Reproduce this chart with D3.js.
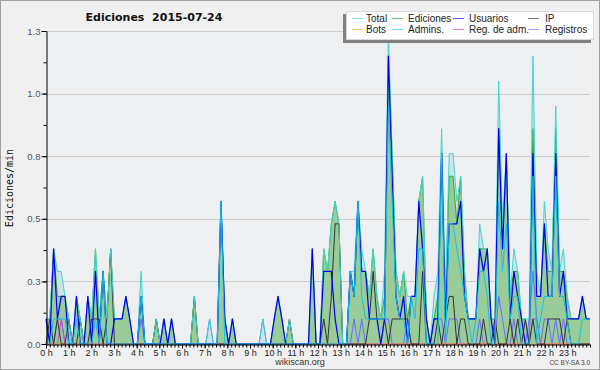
<!DOCTYPE html>
<html>
<head>
<meta charset="utf-8">
<script src="https://cdn.jsdelivr.net/npm/d3@7"></script>
<style>
  body { margin: 0; background: #f0f0f0; }
  svg { display: block; }
</style>
</head>
<body>
<script>
// 10-minute bins, 00:00 .. 23:50 (edits per minute)
const total = [
  0.1, 0.1, 0.38, 0.29, 0.29, 0.19, 0.1, 0, 0.19, 0.1, 0, 0.19,
  0.1, 0.38, 0.1, 0.29, 0.1, 0.38, 0.1, 0.1, 0.1, 0.19, 0.1, 0,
  0, 0.29, 0, 0, 0, 0.1, 0, 0.1, 0, 0.1, 0, 0,
  0, 0, 0, 0.19, 0, 0, 0, 0.1, 0, 0, 0.57, 0.1,
  0, 0.1, 0, 0, 0, 0, 0, 0, 0, 0.1, 0, 0,
  0.1, 0.19, 0.1, 0, 0.1, 0, 0, 0, 0, 0, 0.38, 0,
  0, 0.38, 0.29, 0.48, 0.57, 0.48, 0, 0, 0.29, 0.29, 0.57, 0.38,
  0.29, 0.19, 0.38, 0.19, 0.1, 0.29, 1.24, 0.76, 0.29, 0.19, 0.29, 0.19,
  0.19, 0.19, 0.57, 0.67, 0.1, 0, 0.19, 0.29, 0.86, 0.19, 0.76, 0.76,
  0.57, 0.67, 0.29, 0.1, 0.1, 0.1, 0.48, 0.38, 0.38, 0.1, 0.1, 1.05,
  0.48, 0.76, 0.19, 0.38, 0.29, 0.1, 0.1, 0.1, 1.15, 0.29, 0.19, 0.57,
  0.38, 0.29, 0.95, 0.29, 0.38, 0.19, 0.1, 0.1, 0.1, 0.19, 0.1, 0.1
];
const ediciones = [
  0.1, 0.1, 0.38, 0.19, 0.19, 0.19, 0.1, 0, 0.19, 0.1, 0, 0.19,
  0.1, 0.38, 0.1, 0.29, 0.1, 0.38, 0.1, 0.1, 0.1, 0.19, 0.1, 0,
  0, 0.19, 0, 0, 0, 0.1, 0, 0.1, 0, 0.1, 0, 0,
  0, 0, 0, 0.19, 0, 0, 0, 0, 0, 0, 0.57, 0.1,
  0, 0.1, 0, 0, 0, 0, 0, 0, 0, 0, 0, 0,
  0.1, 0.19, 0.1, 0, 0.1, 0, 0, 0, 0, 0, 0.38, 0,
  0, 0.38, 0.29, 0.48, 0.57, 0.48, 0, 0, 0.29, 0.19, 0.57, 0.29,
  0.29, 0.19, 0.38, 0.19, 0.1, 0.19, 1.15, 0.76, 0.29, 0.19, 0.29, 0.1,
  0.19, 0.19, 0.57, 0.67, 0.1, 0, 0.1, 0.19, 0.76, 0.19, 0.67, 0.67,
  0.48, 0.67, 0.29, 0.1, 0.1, 0.1, 0.38, 0.38, 0.38, 0.1, 0.1, 0.86,
  0.38, 0.76, 0.19, 0.29, 0.29, 0.1, 0.1, 0, 0.86, 0.19, 0.19, 0.48,
  0.29, 0.29, 0.86, 0.29, 0.29, 0.19, 0.1, 0.1, 0.1, 0.19, 0.1, 0.1
];
const usuarios = [
  0.1, 0, 0.38, 0.1, 0.19, 0.19, 0, 0, 0.19, 0, 0, 0.19,
  0, 0.29, 0, 0.29, 0, 0, 0.1, 0.1, 0.1, 0.19, 0.1, 0,
  0, 0.19, 0, 0, 0, 0, 0, 0.1, 0, 0.1, 0, 0,
  0, 0, 0, 0, 0, 0, 0, 0, 0, 0, 0.57, 0.1,
  0, 0.1, 0, 0, 0, 0, 0, 0, 0, 0, 0, 0,
  0.1, 0.19, 0.1, 0, 0, 0, 0, 0, 0, 0, 0.38, 0,
  0, 0.29, 0.29, 0.29, 0.1, 0, 0, 0, 0.29, 0.19, 0.57, 0.29,
  0.29, 0.1, 0.1, 0.1, 0, 0.1, 1.15, 0.67, 0.19, 0.1, 0.19, 0,
  0.19, 0.19, 0.57, 0.38, 0.1, 0, 0.1, 0.1, 0.76, 0.1, 0.48, 0.48,
  0.48, 0.57, 0.19, 0.1, 0.1, 0.1, 0.38, 0.29, 0.38, 0.1, 0, 0.86,
  0.38, 0.76, 0.1, 0.29, 0.19, 0.1, 0, 0, 0.76, 0.19, 0.19, 0.48,
  0.19, 0.19, 0.76, 0.19, 0.29, 0.1, 0.1, 0.1, 0.1, 0.19, 0.1, 0.1
];
const ip = [
  0, 0.1, 0, 0.1, 0, 0, 0.1, 0, 0, 0.1, 0, 0,
  0.1, 0.1, 0.1, 0, 0.1, 0.38, 0, 0, 0, 0, 0, 0,
  0, 0, 0, 0, 0, 0.1, 0, 0, 0, 0, 0, 0,
  0, 0, 0, 0.19, 0, 0, 0, 0, 0, 0, 0, 0,
  0, 0, 0, 0, 0, 0, 0, 0, 0, 0, 0, 0,
  0, 0, 0, 0, 0.1, 0, 0, 0, 0, 0, 0, 0,
  0, 0.1, 0, 0.19, 0.48, 0.48, 0, 0, 0, 0, 0, 0,
  0, 0.1, 0.29, 0.1, 0.1, 0.1, 0, 0.1, 0.1, 0.1, 0.1, 0.1,
  0, 0, 0, 0.29, 0, 0, 0, 0.1, 0, 0.1, 0.19, 0.19,
  0, 0.1, 0.1, 0, 0, 0, 0, 0.1, 0, 0, 0.1, 0,
  0, 0, 0.1, 0, 0.1, 0, 0.1, 0, 0.1, 0, 0, 0,
  0.1, 0.1, 0.1, 0.1, 0, 0.1, 0, 0, 0, 0, 0, 0
];
const bots = [
  0, 0, 0, 0, 0, 0, 0, 0, 0, 0, 0, 0,
  0, 0, 0, 0, 0, 0, 0, 0, 0, 0, 0, 0,
  0, 0, 0, 0, 0, 0, 0, 0, 0, 0, 0, 0,
  0, 0, 0, 0, 0, 0, 0, 0, 0, 0, 0, 0,
  0, 0, 0, 0, 0, 0, 0, 0, 0, 0, 0, 0,
  0, 0, 0, 0, 0, 0, 0, 0, 0, 0, 0, 0,
  0, 0, 0, 0, 0, 0, 0, 0, 0, 0, 0, 0,
  0, 0, 0, 0, 0, 0, 0, 0, 0, 0, 0, 0,
  0, 0, 0, 0, 0, 0, 0, 0, 0, 0, 0, 0,
  0, 0, 0, 0, 0, 0, 0, 0, 0, 0, 0, 0,
  0, 0, 0, 0, 0, 0, 0, 0, 0, 0, 0, 0,
  0, 0, 0, 0, 0, 0, 0, 0, 0, 0, 0, 0
];
const admins = [
  0, 0, 0.1, 0.1, 0.1, 0.1, 0, 0, 0.1, 0, 0, 0,
  0, 0.1, 0, 0.29, 0, 0, 0, 0, 0, 0, 0, 0,
  0, 0.19, 0, 0, 0, 0, 0, 0, 0, 0, 0, 0,
  0, 0, 0, 0, 0, 0, 0, 0, 0, 0, 0.57, 0,
  0, 0, 0, 0, 0, 0, 0, 0, 0, 0, 0, 0,
  0, 0, 0, 0, 0, 0, 0, 0, 0, 0, 0, 0,
  0, 0, 0, 0, 0, 0, 0, 0, 0.29, 0.19, 0.57, 0.19,
  0.1, 0.1, 0.1, 0.1, 0.1, 0.1, 0.95, 0.57, 0.19, 0.1, 0.1, 0,
  0.19, 0.1, 0.38, 0.38, 0, 0, 0, 0, 0.76, 0, 0.48, 0.48,
  0.38, 0.29, 0.19, 0.1, 0, 0.1, 0.29, 0.29, 0.19, 0, 0, 0.57,
  0.29, 0.48, 0.1, 0.19, 0.19, 0, 0, 0, 0.67, 0, 0.1, 0.19,
  0.19, 0.19, 0.67, 0.19, 0.19, 0.1, 0, 0, 0, 0.1, 0.1, 0.1
];
const regAdm = [
  0, 0, 0, 0, 0.1, 0, 0, 0, 0, 0, 0, 0,
  0, 0, 0, 0, 0, 0, 0, 0, 0, 0, 0, 0,
  0, 0, 0, 0, 0, 0, 0, 0, 0, 0, 0, 0,
  0, 0, 0, 0, 0, 0, 0, 0, 0, 0, 0, 0,
  0, 0, 0, 0, 0, 0, 0, 0, 0, 0, 0, 0,
  0, 0, 0, 0, 0, 0, 0, 0, 0, 0, 0, 0,
  0, 0, 0, 0, 0, 0, 0, 0, 0, 0, 0, 0,
  0, 0, 0, 0, 0, 0, 0, 0, 0, 0, 0, 0,
  0, 0, 0, 0, 0, 0, 0, 0, 0, 0, 0, 0,
  0, 0, 0, 0, 0, 0, 0, 0, 0, 0, 0, 0,
  0, 0, 0, 0, 0, 0, 0, 0, 0.1, 0.1, 0, 0,
  0, 0, 0, 0, 0, 0, 0, 0, 0, 0, 0, 0
];
const registros = [
  0, 0, 0, 0.1, 0.1, 0, 0, 0, 0, 0, 0, 0,
  0, 0, 0, 0, 0, 0, 0, 0, 0, 0, 0, 0,
  0, 0.1, 0, 0, 0, 0, 0, 0, 0, 0, 0, 0,
  0, 0, 0, 0, 0, 0, 0, 0.1, 0, 0, 0, 0,
  0, 0, 0, 0, 0, 0, 0, 0, 0, 0.1, 0, 0,
  0, 0, 0, 0, 0, 0, 0, 0, 0, 0, 0, 0,
  0, 0, 0, 0, 0, 0, 0, 0, 0, 0.1, 0, 0.1,
  0, 0, 0, 0, 0, 0.1, 0.1, 0, 0, 0, 0, 0.1,
  0, 0, 0, 0, 0, 0, 0.1, 0.1, 0.1, 0, 0.1, 0.1,
  0.1, 0, 0, 0, 0, 0, 0.1, 0, 0, 0, 0, 0.19,
  0.1, 0, 0, 0.1, 0, 0, 0, 0.1, 0.29, 0.1, 0, 0.1,
  0.1, 0, 0.1, 0, 0.1, 0, 0, 0, 0, 0, 0, 0
];

const hours = [0, 1, 2, 3, 4, 5, 6, 7, 8, 9, 10, 11, 12, 13, 14, 15, 16, 17, 18, 19, 20, 21, 22, 23];
const yTicks = [0, 0.25, 0.5, 0.75, 1, 1.25];
const yTickLabels = ["0.0", "0.3", "0.5", "0.8", "1.0", "1.3"];

const legendRows = [
  [["Total", "#44d4cc"], ["Ediciones", "#33aa33"], ["Usuarios", "#0000ee"], ["IP", "#333333"]],
  [["Bots", "#ff9922"], ["Admins.", "#11c4e0"], ["Reg. de adm.", "#cc44dd"], ["Registros", "#6b6bff"]]
];

const W = 600, H = 370;
const plot = { left: 46, right: 590, top: 31, bottom: 344 };

const svg = d3.select("body").append("svg")
  .attr("width", W)
  .attr("height", H)
  .style("font-family", "'Liberation Sans', Arial, sans-serif");

svg.append("rect")
  .attr("x", 0.5).attr("y", 0.5)
  .attr("width", W - 1).attr("height", H - 1)
  .attr("fill", "#f0f0f0")
  .attr("stroke", "#a0a0a0");

svg.append("rect")
  .attr("x", plot.left).attr("y", plot.top)
  .attr("width", plot.right - plot.left).attr("height", plot.bottom - plot.top)
  .attr("fill", "#edeff1");

const x = d3.scaleLinear().domain([0, total.length - 1]).range([plot.left, plot.right]);
const xh = d3.scaleLinear().domain([0, 24]).range([plot.left, plot.right]);
const y = d3.scaleLinear().domain([0, 1.25]).range([plot.bottom, plot.top]);

// grid
svg.append("g")
  .selectAll("line")
  .data(yTicks.slice(1))
  .join("line")
  .attr("x1", plot.left).attr("x2", plot.right)
  .attr("y1", d => Math.round(y(d)) + 0.5).attr("y2", d => Math.round(y(d)) + 0.5)
  .attr("stroke", "#cccccc");

const area = d3.area().x((d, i) => x(i)).y0(y(0)).y1(d => y(d));
const line = d3.line().x((d, i) => x(i)).y(d => y(d));

svg.append("path").attr("d", area(total)).attr("fill", "#cde2ea");
svg.append("path").attr("d", area(ediciones)).attr("fill", "#99cc99");

const series = [
  [ediciones, "#33aa33", 1],
  [registros, "#6b6bff", 1],
  [regAdm, "#cc44dd", 1],
  [bots, "#ff9922", 1],
  [ip, "#333333", 1],
  [total, "#44d4cc", 1],
  [usuarios, "#0000ee", 1.2],
  [admins, "#11c4e0", 1]
];
series.forEach(([data, color, w]) => {
  svg.append("path")
    .attr("d", line(data))
    .attr("fill", "none")
    .attr("stroke", color)
    .attr("stroke-width", w)
    .attr("stroke-linejoin", "round");
});

// y axis
svg.append("g")
  .attr("transform", `translate(${plot.left + 0.5},0)`)
  .call(d3.axisLeft(y).tickValues(d3.range(0, 1.26, 0.125)).tickSize(3).tickFormat(""))
  .call(g => g.select(".domain").remove());
svg.append("g")
  .attr("transform", `translate(${plot.left + 0.5},0)`)
  .call(d3.axisLeft(y).tickValues(yTicks).tickFormat((d, i) => yTickLabels[i]).tickSize(5).tickSizeOuter(0).tickPadding(1))
  .call(g => g.selectAll("text").attr("fill", "#555").style("font-size", "9.5px").style("font-family", "'Liberation Sans', Arial, sans-serif"))
  .call(g => g.selectAll("line, path").attr("stroke", "#000"));

// x axis
svg.append("g")
  .attr("transform", `translate(0,${plot.bottom + 0.5})`)
  .call(d3.axisBottom(xh).tickValues(d3.range(0, 24.01, 1 / 6)).tickSize(3).tickFormat(""))
  .call(g => g.select(".domain").remove());
svg.append("g")
  .attr("transform", `translate(0,${plot.bottom + 0.5})`)
  .call(d3.axisBottom(xh).tickValues(hours).tickFormat(d => `${d} h`).tickSize(4).tickSizeOuter(0).tickPadding(1))
  .call(g => g.selectAll("text").attr("fill", "#222").style("font-size", "9px").style("font-family", "'Liberation Sans', Arial, sans-serif"))
  .call(g => g.selectAll("line, path").attr("stroke", "#000"));

// titles
svg.append("text")
  .attr("x", 154).attr("y", 21)
  .attr("text-anchor", "middle")
  .style("white-space", "pre")
  .style("font-family", "'DejaVu Sans', sans-serif")
  .style("font-weight", "bold")
  .style("font-size", "11px")
  .attr("fill", "#111")
  .text("Ediciones  2015-07-24");

svg.append("text")
  .attr("transform", "translate(13,188) rotate(-90)")
  .attr("text-anchor", "middle")
  .style("font-family", "'DejaVu Sans Mono', monospace")
  .style("font-size", "10px")
  .attr("fill", "#111")
  .text("Ediciones/min");

svg.append("text")
  .attr("x", 300).attr("y", 365)
  .attr("text-anchor", "middle")
  .style("font-size", "9px")
  .attr("fill", "#333")
  .text("wikiscan.org");

svg.append("text")
  .attr("x", 590).attr("y", 365)
  .attr("text-anchor", "end")
  .style("font-size", "6.5px")
  .attr("fill", "#444")
  .text("CC BY-SA 3.0");

// legend
const lg = svg.append("g");
lg.append("rect").attr("x", 343).attr("y", 14).attr("width", 248).attr("height", 29).attr("fill", "#808080");
lg.append("rect").attr("x", 346.5).attr("y", 11.5).attr("width", 247).attr("height", 28)
  .attr("fill", "#fff").attr("stroke", "#d8d8d8");
const colX = [352, 392, 453, 528];
const textX = [366, 408, 469, 545];
legendRows.forEach((row, r) => {
  const cy = 18.5 + r * 11;
  row.forEach(([name, color], c) => {
    lg.append("line")
      .attr("x1", colX[c]).attr("x2", colX[c] + 11)
      .attr("y1", cy).attr("y2", cy)
      .attr("stroke", color).attr("stroke-opacity", 0.65);
    lg.append("text")
      .attr("x", textX[c]).attr("y", cy + 3.5)
      .style("font-size", "10px")
      .attr("fill", "#222")
      .text(name);
  });
});
</script>
</body>
</html>
